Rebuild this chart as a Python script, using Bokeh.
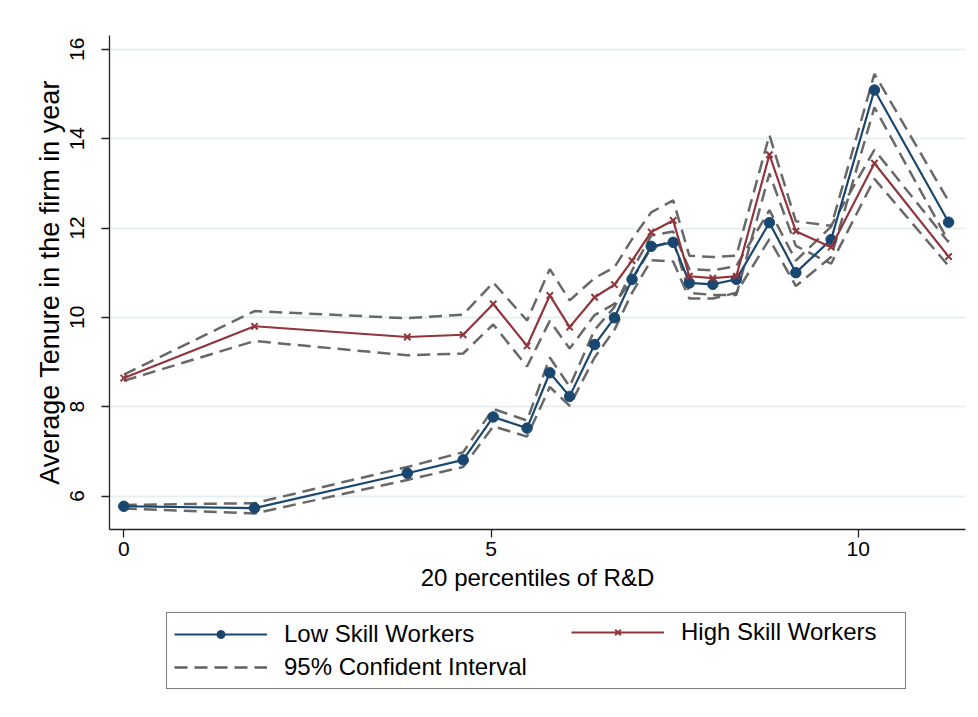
from bokeh.plotting import figure
from bokeh.models import Legend, LegendItem, Range1d, FixedTicker
from bokeh.layouts import column
from bokeh.embed import file_html
from bokeh.resources import INLINE

# ---- data ----
rd_pct = [0, 1.78, 3.86, 4.62, 5.03, 5.49, 5.80, 6.07, 6.41, 6.68, 6.92,
          7.18, 7.48, 7.70, 8.02, 8.34, 8.79, 9.15, 9.63, 10.22, 11.23]

low_mean = [5.77, 5.73, 6.51, 6.81, 7.77, 7.52, 8.76, 8.23, 9.39, 9.99, 10.85,
            11.59, 11.68, 10.77, 10.74, 10.85, 12.12, 11.00, 11.74, 15.09, 12.13]
low_upper = [5.80, 5.84, 6.65, 6.98, 7.95, 7.69, 9.10, 8.45, 9.72, 10.23, 11.05,
             11.83, 11.92, 11.08, 11.05, 11.15, 12.40, 11.27, 12.03, 15.45, 12.60]
low_lower = [5.72, 5.61, 6.36, 6.65, 7.56, 7.33, 8.44, 8.02, 9.10, 9.72, 10.55,
             11.28, 11.25, 10.42, 10.42, 10.55, 11.75, 10.70, 11.35, 14.70, 11.70]

high_mean = [8.64, 9.80, 9.56, 9.61, 10.30, 9.36, 10.49, 9.78, 10.45, 10.73, 11.27,
             11.91, 12.17, 10.92, 10.88, 10.92, 13.64, 11.93, 11.57, 13.45, 11.36]
high_upper = [8.72, 10.14, 9.98, 10.06, 10.78, 9.93, 11.08, 10.38, 10.88, 11.12, 11.75,
              12.35, 12.62, 11.38, 11.35, 11.38, 14.08, 12.15, 12.05, 13.75, 11.68]
high_lower = [8.58, 9.47, 9.15, 9.19, 9.84, 8.90, 9.92, 9.30, 10.05, 10.30, 10.85,
              11.55, 11.72, 10.55, 10.50, 10.50, 13.22, 11.60, 11.20, 13.10, 11.15]

x_ticks = [0, 5, 10]
y_ticks = [6, 8, 10, 12, 14, 16]

x_title = "20 percentiles of R&D"
y_title = "Average Tenure in the firm in year"
labels = ["Low Skill Workers", "High Skill Workers", "95% Confident Interval"]

# ---- styles ----
NAVY = "#1a476f"
MAROON = "#90353b"
GRAY = "#606060"
FONT = "Liberation Sans"
DASH = "13 7"

# ================= main chart =================
p = figure(width=970, height=600,
           x_range=Range1d(-0.195, 11.46), y_range=Range1d(5.25, 16.31),
           output_backend="svg", toolbar_location=None,
           min_border_left=109, min_border_right=5,
           min_border_top=35, min_border_bottom=71)
p.outline_line_color = None
p.background_fill_color = "white"
p.border_fill_color = "white"

p.xgrid.visible = False
p.ygrid.grid_line_color = "#e6eff1"
p.ygrid.grid_line_width = 2

p.xaxis.ticker = FixedTicker(ticks=x_ticks)
p.yaxis.ticker = FixedTicker(ticks=y_ticks)
for ax in (p.xaxis, p.yaxis):
    ax.axis_line_color = "#222222"
    ax.axis_line_width = 1.3
    ax.major_tick_line_color = "#222222"
    ax.major_tick_line_width = 1.3
    ax.major_tick_in = 0
    ax.major_tick_out = 8
    ax.minor_tick_line_color = None
    ax.major_label_text_font = FONT
    ax.major_label_text_font_size = "21px"
    ax.major_label_text_color = "black"
    ax.axis_label_text_font = FONT
    ax.axis_label_text_font_style = "normal"
    ax.axis_label_text_color = "black"

p.xaxis.axis_label = x_title
p.xaxis.axis_label_text_font_size = "24px"
p.xaxis.major_label_standoff = 4
p.xaxis.axis_label_standoff = 5

p.yaxis.axis_label = y_title
p.yaxis.axis_label_text_font_size = "27px"
p.yaxis.major_label_orientation = "vertical"
p.yaxis.major_label_standoff = 17
p.yaxis.axis_label_standoff = 3

for ys in (low_upper, low_lower, high_upper, high_lower):
    p.line(rd_pct, ys, line_color=GRAY, line_width=2.5, line_dash=DASH,
           line_alpha=0.95)

p.line(rd_pct, low_mean, line_color=NAVY, line_width=2.2)
p.scatter(rd_pct, low_mean, marker="circle", size=10.5,
          fill_color=NAVY, line_color=NAVY)
p.line(rd_pct, high_mean, line_color=MAROON, line_width=2.2)
p.scatter(rd_pct, high_mean, marker="x", size=9,
          line_color=MAROON, line_width=2)

# ================= legend strip =================
lf = figure(width=970, height=100, x_range=Range1d(0, 1), y_range=Range1d(0, 1),
            output_backend="svg", toolbar_location=None,
            x_axis_location=None, y_axis_location=None,
            min_border_left=109, min_border_right=5,
            min_border_top=0, min_border_bottom=2)
lf.outline_line_color = None
lf.xgrid.visible = False
lf.ygrid.visible = False
lf.border_fill_color = "white"
lf.background_fill_color = "white"

# legend-only renderers (same series, not drawn in this strip)
lg_low_line = lf.line(rd_pct, low_mean, line_color=NAVY, line_width=2.2, visible=False)
lg_low_pts = lf.scatter(rd_pct, low_mean, marker="circle", size=10,
                        fill_color=NAVY, line_color=NAVY, visible=False)
lg_high_line = lf.line(rd_pct, high_mean, line_color=MAROON, line_width=2.2, visible=False)
lg_high_pts = lf.scatter(rd_pct, high_mean, marker="x", size=8,
                         line_color=MAROON, line_width=2, visible=False)
lg_ci = lf.line(rd_pct, low_upper, line_color=GRAY, line_width=2.5,
                line_dash=DASH, visible=False)


def style_legend(lg):
    lg.label_text_font = FONT
    lg.label_text_font_size = "24px"
    lg.label_text_color = "black"
    lg.glyph_width = 93
    lg.glyph_height = 20
    lg.label_standoff = 17
    lg.padding = 7
    lg.spacing = 5
    lg.margin = 0
    lg.inactive_fill_alpha = 0.0
    lg.click_policy = "none"


# locations: bottom-left corner of each legend box, in px from the strip frame's bottom-left
legend_a = Legend(items=[LegendItem(label=labels[0], renderers=[lg_low_line, lg_low_pts]),
                         LegendItem(label=labels[2], renderers=[lg_ci])],
                  location=(57, 9))
style_legend(legend_a)
legend_a.label_width = 614
legend_a.border_line_color = "black"
legend_a.border_line_width = 1.3
legend_a.background_fill_color = "white"
legend_a.background_fill_alpha = 1.0

legend_b = Legend(items=[LegendItem(label=labels[1], renderers=[lg_high_line, lg_high_pts])],
                  location=(462, 52))
style_legend(legend_b)
legend_b.label_width = 207
legend_b.border_line_color = None
legend_b.background_fill_alpha = 0.0

lf.add_layout(legend_a, "center")
lf.add_layout(legend_b, "center")

layout = column(p, lf, spacing=0)
open("out.html", "w").write(file_html(layout, INLINE))
